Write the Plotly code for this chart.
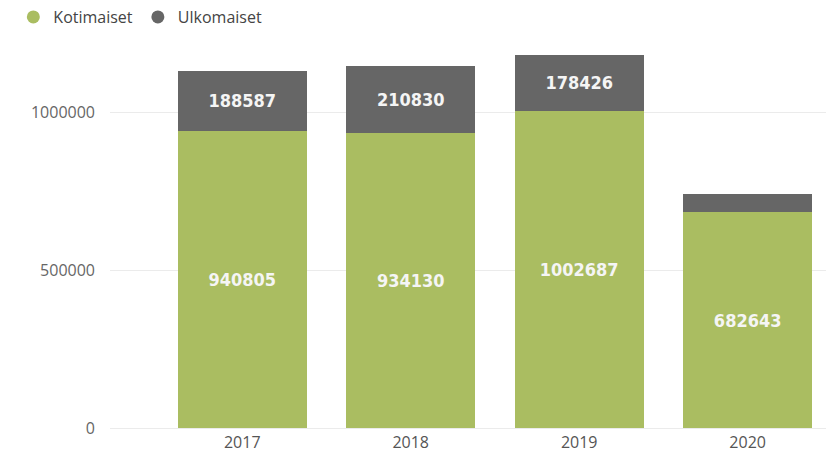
import plotly.graph_objects as go

years = ["2017", "2018", "2019", "2020"]
kotimaiset = [940805, 934130, 1002687, 682643]
ulkomaiset = [188587, 210830, 178426, 58000]
ulko_labels = ["188587", "210830", "178426", ""]
koti_labels = [str(v) for v in kotimaiset]

green = "#AABD61"
gray = "#666666"
label_font = dict(family="DejaVu Sans Condensed, Liberation Sans Narrow, sans-serif",
                  size=18, color="#F5F5F5", weight="bold")

fig = go.Figure()
fig.add_trace(go.Bar(
    x=years, y=kotimaiset, name="Kotimaiset", marker_color=green,
    text=koti_labels, texttemplate="%{text}", textposition="inside",
    insidetextanchor="middle", textfont=label_font,
    marker_line_width=0, showlegend=False, legendgroup="k",
))
fig.add_trace(go.Bar(
    x=years, y=ulkomaiset, name="Ulkomaiset", marker_color=gray,
    text=ulko_labels, texttemplate="%{text}", textposition="inside",
    insidetextanchor="middle", textfont=label_font,
    marker_line_width=0, showlegend=False, legendgroup="u",
))
# legend entries with round markers
fig.add_trace(go.Scatter(x=[None], y=[None], mode="markers", name="Kotimaiset",
                         marker=dict(symbol="circle", size=13, color=green), legendgroup="k"))
fig.add_trace(go.Scatter(x=[None], y=[None], mode="markers", name="Ulkomaiset",
                         marker=dict(symbol="circle", size=13, color=gray), legendgroup="u"))

fig.update_layout(
    barmode="stack",
    bargap=0.235,
    width=826, height=452,
    margin=dict(l=110, r=0, t=40, b=24, autoexpand=False),
    plot_bgcolor="white", paper_bgcolor="white",
    font=dict(family="Open Sans, Noto Sans, sans-serif", color="#666666", size=16),
    uniformtext=dict(minsize=8, mode="show"),
    showlegend=True,
    legend=dict(orientation="h", x=-0.135, xanchor="left", y=1.0593, yanchor="middle",
                font=dict(size=16, color="#444444"), itemwidth=30,
                tracegroupgap=0, traceorder="normal"),
)
fig.update_xaxes(type="category", range=[-0.785, 3.465], showgrid=False, showline=False,
                 ticks="", tickfont=dict(size=16, color="#555555"), automargin=False,
                 ticklabelstandoff=3)
fig.update_yaxes(range=[0, 1227848], tickvals=[0, 500000, 1000000], tickformat="d",
                 showgrid=True, gridcolor="#EBEBEB", gridwidth=1,
                 zeroline=True, zerolinecolor="#EBEBEB", zerolinewidth=1,
                 ticks="", ticklabelstandoff=14, automargin=False,
                 tickfont=dict(size=16, color="#666666"))

fig.write_html("out.html", config={"displayModeBar": False},
               post_script="document.body.style.margin='0';document.body.style.overflow='hidden';")
